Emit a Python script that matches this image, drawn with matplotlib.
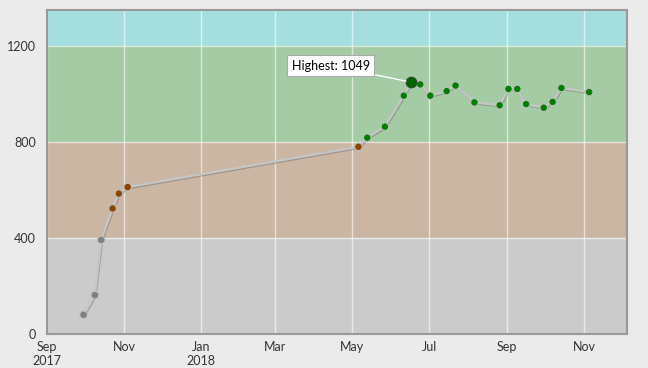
import numpy as np
import pandas as pd
import matplotlib
matplotlib.use('Agg')
import matplotlib.pyplot as plt
import matplotlib.dates as mdates
import matplotlib.patheffects as pe

# rating history
dates = ['2017-09-30', '2017-10-09', '2017-10-14', '2017-10-23', '2017-10-28', '2017-11-04',
	'2018-05-06', '2018-05-13', '2018-05-27', '2018-06-11', '2018-06-17', '2018-06-24',
	'2018-07-02', '2018-07-15', '2018-07-22', '2018-08-06', '2018-08-26', '2018-09-02',
	'2018-09-09', '2018-09-16', '2018-09-30', '2018-10-07', '2018-10-14', '2018-11-05']
ratings = [80, 162, 392, 523, 585, 612,
	780, 818, 864, 993, 1049, 1040,
	993, 1012, 1035, 965, 953, 1021,
	1021, 958, 943, 967, 1025, 1008]

band_edges = [0, 400, 800, 1200, 1350]
band_colors = ['#cbcbcb', '#cbb5a3', '#a5cba4', '#a5dede']
marker_colors = ['#808080', '#8b4500', '#008000', '#008000']

tick_dates = ['2017-09-01', '2017-11-01', '2018-01-01', '2018-03-01', '2018-05-01',
	'2018-07-01', '2018-09-01', '2018-11-01']
tick_labels = ['Sep\n2017', 'Nov', 'Jan\n2018', 'Mar', 'May', 'Jul', 'Sep', 'Nov']

plt.rcParams['font.family'] = ['Lato', 'DejaVu Sans']
fig = plt.figure(figsize=(6.48, 3.68), dpi=100, facecolor='#ebebeb')
ax = fig.add_axes([47/648., 34/368., 580/648., 324/368.])

x = pd.to_datetime(dates)
y = np.array(ratings)

for i in range(len(band_colors)):
	ax.axhspan(band_edges[i], band_edges[i+1], color=band_colors[i], lw=0, zorder=0)
for v in band_edges[1:-1]:
	ax.axhline(v, color='white', lw=1, alpha=0.6, zorder=1)

xt = pd.to_datetime(tick_dates)
for t in xt:
	ax.axvline(t, color='white', lw=1, alpha=0.6, zorder=1)

ax.plot(x, y, color='#c6c6c6', lw=1.6, zorder=2,
	path_effects=[pe.SimpleLineShadow(offset=(0.6, -0.8), shadow_color='#555555', alpha=0.35), pe.Normal()])
cols = [marker_colors[np.searchsorted(band_edges, v, side='right')-1] for v in y]
ax.scatter(x, y, s=30, c=cols, edgecolors='#c0c0c0', linewidths=0.8, zorder=3)

imax = int(np.argmax(y))
ax.scatter([x[imax]], [y[imax]], s=55, c='#006400', edgecolors='#2a4a2a', linewidths=1, zorder=4)
ax.annotate('Highest: ' + str(y[imax]), xy=(x[imax], y[imax]), xytext=(-58, 12),
	textcoords='offset points', ha='center', va='center', fontsize=9,
	bbox=dict(boxstyle='square,pad=0.35', fc='white', ec='#aaaaaa', lw=0.8),
	arrowprops=dict(arrowstyle='-', color='white', lw=1, shrinkA=0, shrinkB=4), zorder=5)

ax.set_xlim(pd.Timestamp('2017-09-01'), pd.Timestamp('2018-12-05'))
ax.set_ylim(0, 1350)
ax.set_xticks(xt)
ax.set_xticklabels(tick_labels)
ax.set_yticks([0, 400, 800, 1200])
ax.tick_params(length=0, labelsize=9, colors='#333333')
ax.tick_params(axis='y', pad=8)
ax.tick_params(axis='x', pad=5)
for s in ax.spines.values():
	s.set_color('#999999')
	s.set_linewidth(1.5)

plt.savefig('out.png', dpi=100, facecolor=fig.get_facecolor())
